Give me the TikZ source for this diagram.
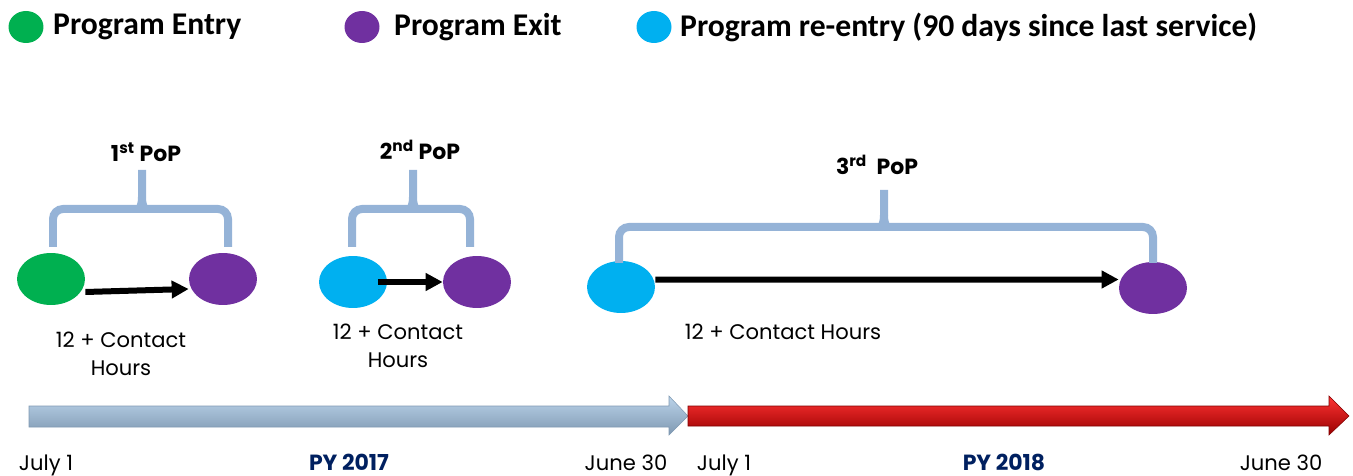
\documentclass[tikz,border=0pt]{standalone}
\usepackage{fontspec}
\setmainfont{Poppins}
\newfontfamily\legendfont{Carlito}
\definecolor{entrygreen}{HTML}{00B050}
\definecolor{exitpurple}{HTML}{7030A0}
\definecolor{reentrycyan}{HTML}{00B0F0}
\definecolor{bracegray}{HTML}{95B3D7}
\definecolor{pynavy}{HTML}{002060}
\definecolor{bartop}{HTML}{BBD3EA}
\definecolor{barmid}{HTML}{E4EFF9}
\definecolor{barlow}{HTML}{7F99B2}
\usetikzlibrary{arrows.meta, shapes.geometric, positioning, calc}

% curly bracket over one period: left x, right x, mid x, foot y, bar y, tip y
\newcommand{\popbrace}[6]{%
  \draw[brace] (#1,#4) [rounded corners=0.2cm] -- (#1,#5) -- (#3-12,#5)
    [sharp corners] .. controls (#3-3,#5) and (#3,#5-3) .. (#3,#5-12) -- (#3,#6);
  \draw[brace] (#2,#4) [rounded corners=0.2cm] -- (#2,#5) -- (#3+12,#5)
    [sharp corners] .. controls (#3+3,#5) and (#3,#5-3) .. (#3,#5-12);
}

\begin{document}
\begin{tikzpicture}[x=0.02cm, y=-0.02cm, >=Latex,
    dot/.style={ellipse, inner sep=0pt, minimum width=1.36cm, minimum height=1.04cm},
    legdot/.style={ellipse, inner sep=0pt, minimum width=0.7cm, minimum height=0.64cm},
    legtext/.style={inner sep=0pt, font=\legendfont\bfseries\fontsize{18}{22}\selectfont},
    flow/.style={-{Triangle[length=0.34cm, width=0.34cm]}, line width=0.12cm},
    brace/.style={bracegray, line width=0.16cm},
    hrs/.style={align=center, font=\fontsize{12}{16}\selectfont},
    pop/.style={font=\bfseries\fontsize{12.5}{15}\selectfont},
    date/.style={anchor=base, font=\fontsize{12}{14}\selectfont},
    pyear/.style={anchor=base, text=pynavy, font=\bfseries\fontsize{12.5}{14}\selectfont}]
  \useasboundingbox (0,0) rectangle (1353,476);

  % Legend
  \node[legdot, fill=entrygreen] (legentry) at (26,27) {};
  \node[legtext, right=0.18cm of legentry] (legentrytxt) {Program Entry};
  \node[legdot, fill=exitpurple] (legexit) at (362,27) {};
  \node[legtext, right=0.28cm of legexit] (legexittxt) {Program Exit};
  \node[legdot, fill=reentrycyan] (legre) at (654,27) {};
  \node[legtext, right=0.16cm of legre] (legretxt) {Program re-entry (90 days since last service)};

  % Periods of participation
  \node[dot, fill=entrygreen] (entryA) at (51,279) {};
  \node[dot, fill=exitpurple] (exitA) at (223,279) {};
  \node[dot, fill=reentrycyan] (reentryB) at (353,282) {};
  \node[dot, fill=exitpurple] (exitB) at (477,282) {};
  \node[dot, fill=reentrycyan] (reentryC) at (621,287) {};
  \node[dot, fill=exitpurple] (exitC) at (1153,288) {};

  \draw[flow] ([yshift=-0.26cm]entryA.east) -- ([yshift=-0.2cm]exitA.west);
  \draw[flow] ([xshift=0.5cm]reentryB.center) -- (exitB.west);
  \draw[flow] ([yshift=0.15cm]reentryC.east) -- ([yshift=0.17cm]exitC.west);

  % Brackets
  \popbrace{53}{228}{142}{247}{209}{170}
  \popbrace{352}{470}{413}{247}{209}{170}
  \popbrace{619}{1153}{884}{263}{227}{190}

  \node[pop] (popA) at (146,152) {1\textsuperscript{st} PoP};
  \node[pop] (popB) at (420,150) {2\textsuperscript{nd} PoP};
  \node[pop] (popC) at (877,165) {3\textsuperscript{rd}\ \ PoP};

  \node[hrs] (hoursA) at (121,354) {12 + Contact\\Hours};
  \node[hrs] (hoursB) at (398,346) {12 + Contact\\Hours};
  \node[hrs] (hoursC) at (783,332) {12 + Contact Hours};

  % Program years
  \shade[top color=bartop, middle color=barmid, bottom color=barlow,
         draw=barlow, line width=0.3pt]
    (29,406) -- (669,406) -- (669,396) -- (688,416) -- (669,435) -- (669,427) -- (29,427) -- cycle;
  \shade[top color=red!80!white, middle color=red, bottom color=red!60!black,
         draw=red!50!black, line width=0.3pt]
    (688,406) -- (1329,406) -- (1329,396) -- (1349,416) -- (1329,435) -- (1329,426) -- (688,426) -- cycle;

  \node[date] (startA) at (46,470) {July 1};
  \node[pyear] (pyA) at (349,470) {PY 2017};
  \node[date] (endA) at (626,470) {June 30};
  \node[date] (startB) at (724,470) {July 1};
  \node[pyear] (pyB) at (1004,470) {PY 2018};
  \node[date] (endB) at (1281,470) {June 30};
\end{tikzpicture}
\end{document}
